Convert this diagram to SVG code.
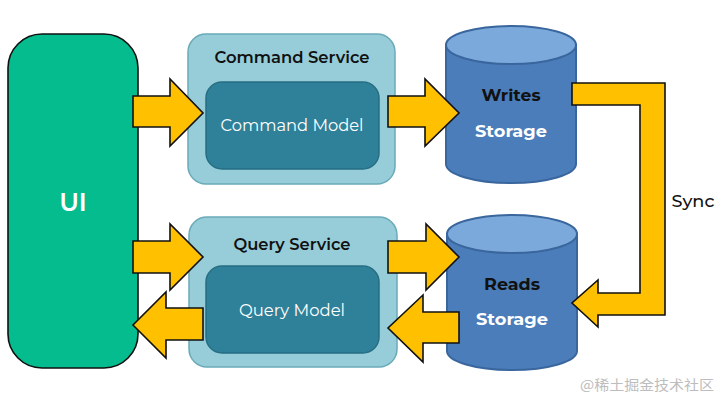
<svg xmlns="http://www.w3.org/2000/svg" width="720" height="402" viewBox="0 0 720 402">
<style>
.arrow{fill:#FFC000;stroke:#111;stroke-width:1.6;stroke-linejoin:miter}
.svc{fill:#96CDD8;stroke:#6AAAB8;stroke-width:1.5}
.mdl{fill:#2F8199;stroke:#276E84;stroke-width:1.5}
.cylb{fill:#4B7DBA;stroke:#3A669E;stroke-width:2}
.cylt{fill:#7CA9DC;stroke:#3A669E;stroke-width:2}
.t{font-family:"Montserrat","Open Sans","Liberation Sans",sans-serif}
.title{font-size:16px;font-weight:600;fill:#111;text-anchor:middle}
.model{font-size:16.5px;font-weight:400;fill:#fff;text-anchor:middle}
.cb{font-size:17px;font-weight:700;fill:#111;text-anchor:middle}
.cw{font-size:17px;font-weight:700;fill:#fff;text-anchor:middle}
</style>
<rect width="720" height="402" fill="#fff"/>
<g id="ui">
<rect x="8" y="34" width="130" height="334" rx="34" ry="34" fill="#05BC8E" stroke="#111" stroke-width="1.6"/>
<text class="t" x="73" y="211" font-size="25" font-weight="600" fill="#fff" text-anchor="middle">UI</text>
</g>
<g id="command-service">
<rect class="svc" x="188" y="34" width="207" height="150" rx="18"/>
<text class="t title" x="292" y="63" textLength="155" lengthAdjust="spacingAndGlyphs">Command Service</text>
</g>
<g id="command-model">
<rect class="mdl" x="206" y="82" width="173" height="87" rx="16"/>
<text class="t model" x="292" y="131" textLength="143" lengthAdjust="spacingAndGlyphs">Command Model</text>
</g>
<g id="query-service">
<rect class="svc" x="189" y="217" width="208" height="150" rx="18"/>
<text class="t title" x="292" y="250" textLength="117" lengthAdjust="spacingAndGlyphs">Query Service</text>
</g>
<g id="query-model">
<rect class="mdl" x="206" y="266" width="173" height="87" rx="16"/>
<text class="t model" x="292" y="316" textLength="106" lengthAdjust="spacingAndGlyphs">Query Model</text>
</g>
<g id="writes-storage">
<path class="cylb" d="M446,45 V164 A65,19 0 0 0 576,164 V45 Z"/>
<ellipse class="cylt" cx="511" cy="45" rx="65" ry="19"/>
<text class="t cb" x="511" y="101" textLength="59" lengthAdjust="spacingAndGlyphs">Writes</text>
<text class="t cw" x="511" y="137" textLength="72" lengthAdjust="spacingAndGlyphs">Storage</text>
</g>
<g id="reads-storage">
<path class="cylb" d="M447,234 V351 A65,19 0 0 0 577,351 V234 Z"/>
<ellipse class="cylt" cx="512" cy="234" rx="65" ry="19"/>
<text class="t cb" x="512" y="290" textLength="56" lengthAdjust="spacingAndGlyphs">Reads</text>
<text class="t cw" x="512" y="325" textLength="72" lengthAdjust="spacingAndGlyphs">Storage</text>
</g>
<g id="connectors">
<polygon class="arrow" points="133,96 170,96 170,79 203,113 170,146 170,127 133,127"/>
<polygon class="arrow" points="388,96 425,96 425,79 459,113 425,146 425,127 388,127"/>
<polygon class="arrow" points="133,241 170,241 170,224 203,257 170,290 170,273 133,273"/>
<polygon class="arrow" points="203,308 166,308 166,292 133,325 166,358 166,340 203,340"/>
<polygon class="arrow" points="388,241 426,241 426,224 459,257 426,290 426,273 388,273"/>
<polygon class="arrow" points="459,312 423,312 423,295 388,328 423,362 423,343 459,343"/>
<polygon class="arrow" points="572,83 665,83 665,315 598,315 598,327 572,303 598,280 598,293 640,293 640,105 572,105"/>
<text class="t" x="693" y="207" font-size="17" font-weight="500" fill="#111" text-anchor="middle" textLength="43" lengthAdjust="spacingAndGlyphs">Sync</text>
</g>
<text x="647" y="390" font-family="'Noto Sans CJK SC',sans-serif" font-size="14" fill="#BDBDBD" text-anchor="middle" textLength="134" lengthAdjust="spacingAndGlyphs">@稀土掘金技术社区</text>
</svg>
